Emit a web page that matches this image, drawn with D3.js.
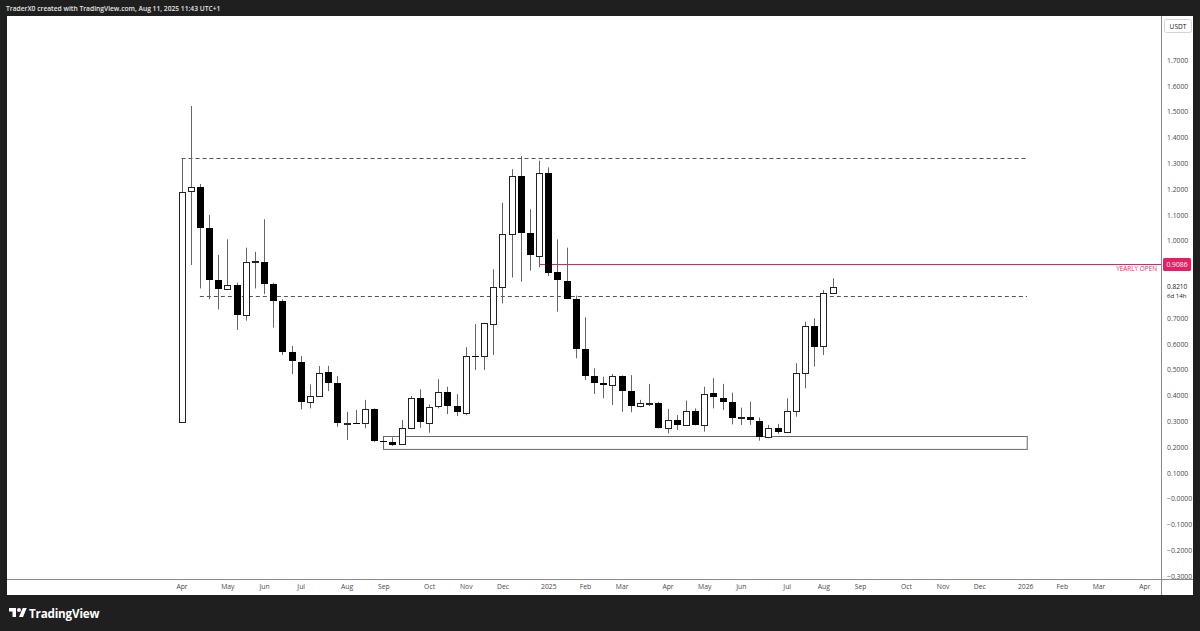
<!DOCTYPE html>
<html><head><meta charset="utf-8">
<script src="https://cdn.jsdelivr.net/npm/d3@7"></script>
<style>html,body{margin:0;padding:0;background:#1f1f1f;overflow:hidden}svg{display:block}</style>
</head><body><svg id="c" width="1200" height="631"></svg>
<script>
// Weekly ENA/USDT candles, week index 0 = first week of Apr 2024
const opens  = [0.298,1.19,1.209,1.050,0.848,0.812,0.828,0.712,0.919,0.919,0.832,0.766,0.567,0.531,0.376,0.398,0.49,0.447,0.292,0.294,0.292,0.348,0.224,0.221,0.212,0.273,0.389,0.295,0.357,0.412,0.36,0.335,0.554,0.553,0.68,0.822,1.026,1.251,1.029,0.942,1.264,0.877,0.845,0.774,0.579,0.476,0.45,0.441,0.476,0.419,0.359,0.37,0.37,0.275,0.305,0.286,0.341,0.286,0.408,0.391,0.376,0.314,0.315,0.302,0.24,0.275,0.26,0.341,0.488,0.669,0.589,0.796];
const highs  = [1.32,1.522,1.22,1.10,0.945,1.005,0.837,0.973,0.957,1.083,0.837,0.773,0.592,0.553,0.443,0.514,0.515,0.476,0.337,0.344,0.383,0.35,0.243,0.238,0.305,0.398,0.424,0.365,0.463,0.434,0.405,0.587,0.677,0.682,0.889,1.147,1.277,1.328,1.122,1.31,1.284,1.005,0.973,0.787,0.703,0.505,0.473,0.483,0.478,0.479,0.383,0.445,0.375,0.348,0.324,0.38,0.35,0.434,0.467,0.445,0.411,0.353,0.376,0.315,0.286,0.29,0.389,0.525,0.686,0.699,0.809,0.854];
const lows   = [0.298,0.906,0.815,0.773,0.734,0.81,0.654,0.69,0.815,0.793,0.663,0.557,0.483,0.346,0.35,0.398,0.417,0.279,0.2275,0.29,0.273,0.22,0.195,0.204,0.208,0.269,0.275,0.256,0.35,0.328,0.32,0.324,0.499,0.499,0.557,0.757,0.857,0.841,0.884,0.897,0.863,0.725,0.775,0.544,0.46,0.406,0.389,0.363,0.337,0.335,0.354,0.359,0.272,0.253,0.266,0.284,0.284,0.26,0.35,0.344,0.288,0.286,0.286,0.225,0.234,0.251,0.256,0.318,0.428,0.512,0.557,0.796];
const closes = [1.19,1.207,1.050,0.848,0.812,0.828,0.712,0.919,0.921,0.832,0.766,0.567,0.531,0.376,0.398,0.488,0.447,0.292,0.293,0.291,0.348,0.224,0.222,0.211,0.275,0.389,0.295,0.357,0.412,0.359,0.335,0.554,0.553,0.68,0.822,1.026,1.251,1.029,0.942,1.264,0.876,0.845,0.777,0.579,0.476,0.45,0.441,0.476,0.419,0.359,0.37,0.371,0.275,0.305,0.286,0.341,0.286,0.406,0.391,0.376,0.314,0.315,0.302,0.24,0.275,0.26,0.341,0.488,0.669,0.589,0.796,0.821];

// 0.8 / 0.9 / 1.8 labels are hidden behind price tags in the source
const priceTicks = [-0.3,-0.2,-0.1,0,0.1,0.2,0.3,0.4,0.5,0.6,0.7,1.0,1.1,1.2,1.3,1.4,1.5,1.6,1.7];
const priceTickLabels = ["\u22120.3000","\u22120.2000","\u22120.1000","\u22120.0000","0.1000","0.2000","0.3000","0.4000","0.5000","0.6000","0.7000","1.0000","1.1000","1.2000","1.3000","1.4000","1.5000","1.6000","1.7000"];
const timeTickWeeks = [0,5,9,13,18,22,27,31,35,40,44,48,53,57,61,66,70,74,79,83,87,92,96,100,105];
const timeTickLabels = ["Apr","May","Jun","Jul","Aug","Sep","Oct","Nov","Dec","2025","Feb","Mar","Apr","May","Jun","Jul","Aug","Sep","Oct","Nov","Dec","2026","Feb","Mar","Apr"];

const resistanceLevel = 1.319;
const midLevel = 0.787;
const yearlyOpen = 0.9086;
const supportZone = [0.193, 0.243];
const lastPrice = 0.8210;

const svg = d3.select('#c');
const W=1200,H=631;
const L=7,R=1161.5,T=16,B=579.5;
const x = d3.scaleLinear().domain([-19.03,106.87]).range([L,R]);
const y = d3.scaleLinear().domain([-0.3132,1.8709]).range([B,T]);
const FONT = "'Open Sans','DejaVu Sans',sans-serif";

svg.append('rect').attr('width',W).attr('height',H).attr('fill','#1f1f1f');
svg.append('text').attr('x',6).attr('y',11).attr('fill','#e6e6e6').attr('font-family',FONT).attr('font-size',6.7).attr('font-weight',600)
  .text('TraderX0 created with TradingView.com, Aug 11, 2025 11:43 UTC+1');
svg.append('rect').attr('x',L).attr('y',T).attr('width',1193-L).attr('height',595-T).attr('fill','#ffffff');

svg.append('defs').append('clipPath').attr('id','clip').append('rect').attr('x',L).attr('y',T).attr('width',R-L).attr('height',B-T);
const g = svg.append('g').attr('clip-path','url(#clip)');

// drawings
const endW = 92.2;
g.append('line').attr('x1',x(0)).attr('x2',x(endW)).attr('y1',Math.round(y(resistanceLevel))+0.5).attr('y2',Math.round(y(resistanceLevel))+0.5)
  .attr('stroke','#555').attr('stroke-dasharray','4,3');
g.append('line').attr('x1',x(2)).attr('x2',x(endW)).attr('y1',Math.round(y(midLevel))+0.5).attr('y2',Math.round(y(midLevel))+0.5)
  .attr('stroke','#555').attr('stroke-dasharray','4,3');
g.append('line').attr('x1',x(39.1)).attr('x2',R).attr('y1',Math.round(y(yearlyOpen))+0.5).attr('y2',Math.round(y(yearlyOpen))+0.5)
  .attr('stroke','#e91e63');
g.append('rect').attr('x',Math.round(x(22))+0.5).attr('y',Math.round(y(supportZone[1]))+0.5)
  .attr('width',x(endW)-x(22)).attr('height',y(supportZone[0])-y(supportZone[1]))
  .attr('fill','none').attr('stroke','#6a6a6a');
g.append('text').attr('x',1157).attr('y',Math.round(y(yearlyOpen))+7).attr('text-anchor','end')
  .attr('fill','#e91e63').attr('font-family',FONT).attr('font-size',6.4).text('YEARLY OPEN');

// candles
const data = opens.map((o,i)=>({i,o,h:highs[i],l:lows[i],c:closes[i]}));
g.selectAll('line.wick').data(data).join('line').attr('class','wick')
  .attr('x1',d=>Math.round(x(d.i))+0.5).attr('x2',d=>Math.round(x(d.i))+0.5)
  .attr('y1',d=>y(d.h)).attr('y2',d=>y(d.l)).attr('stroke','#666').attr('stroke-width',1);
g.selectAll('rect.body').data(data).join('rect').attr('class','body')
  .attr('x',d=>d.c>=d.o?Math.round(x(d.i))-2.5:Math.round(x(d.i))-3)
  .attr('width',d=>d.c>=d.o?6:7)
  .attr('y',d=>{const t=y(Math.max(d.o,d.c));return d.c>=d.o?Math.round(t)+0.5:Math.round(t);})
  .attr('height',d=>Math.max(1,Math.round(Math.abs(y(d.o)-y(d.c)))))
  .attr('fill',d=>d.c>=d.o?'#fff':'#000')
  .attr('stroke',d=>d.c>=d.o?'#222':'none');

// axes frame
svg.append('line').attr('x1',R).attr('x2',R).attr('y1',T).attr('y2',595).attr('stroke','#8a8a8a');
svg.append('line').attr('x1',L).attr('x2',1193).attr('y1',B).attr('y2',B).attr('stroke','#8a8a8a');

const ya = svg.append('g').attr('transform',`translate(${R},0)`)
  .call(d3.axisRight(y).tickValues(priceTicks).tickFormat((d,i)=>priceTickLabels[i]).tickSize(0).tickPadding(5.5));
ya.select('.domain').remove();
ya.selectAll('text').attr('fill','#4a4a4a').attr('font-family',FONT).attr('font-size',6.8);

const xa = svg.append('g').attr('transform',`translate(0,${B})`).attr('clip-path','url(#clipx)')
  .call(d3.axisBottom(x).tickValues(timeTickWeeks).tickFormat((d,i)=>timeTickLabels[i]).tickSize(0).tickPadding(5));
svg.select('defs').append('clipPath').attr('id','clipx').append('rect').attr('x',L).attr('y',-5).attr('width',R-L).attr('height',30);
xa.select('.domain').remove();
xa.selectAll('text').attr('fill','#4a4a4a').attr('font-family',FONT).attr('font-size',6.8);

// USDT label
svg.append('rect').attr('x',1164.5).attr('y',19.5).attr('width',27).attr('height',13).attr('rx',2)
  .attr('fill','#fff').attr('stroke','#d4d4d4');
svg.append('text').attr('x',1178).attr('y',28.5).attr('text-anchor','middle').attr('fill','#131722')
  .attr('font-family',FONT).attr('font-size',6.6).text('USDT');

// yearly open price tag
const yo = Math.round(y(yearlyOpen));
svg.append('rect').attr('x',1163).attr('y',yo-6).attr('width',28).attr('height',13).attr('rx',1.5).attr('fill','#e91e63');
svg.append('text').attr('x',1177).attr('y',yo+3).attr('text-anchor','middle').attr('fill','#fff')
  .attr('font-family',FONT).attr('font-size',6.8).text(d3.format('.4f')(yearlyOpen));

// last price tag
const lp = y(lastPrice);
svg.append('text').attr('x',1167).attr('y',lp+2.3).attr('fill','#131722').attr('font-family',FONT).attr('font-size',6.5).text(d3.format('.4f')(lastPrice));
svg.append('text').attr('x',1167).attr('y',lp+11).attr('fill','#131722').attr('font-family',FONT).attr('font-size',6.1).text('6d 14h');

// TradingView logo
const lg = svg.append('g').attr('transform','translate(9,606) scale(0.5)');
lg.append('path').attr('d','M14 22H7V11H0V4h14v18z').attr('fill','#fff');
lg.append('path').attr('d','M28 22h-8l7.5-18h8L28 22z').attr('fill','#fff');
lg.append('circle').attr('cx',20).attr('cy',8).attr('r',4).attr('fill','#fff');
svg.append('text').attr('x',29).attr('y',618).attr('fill','#fff').attr('font-family',FONT)
  .attr('font-size',11.7).attr('font-weight',700).attr('letter-spacing',-0.2).text('TradingView');
</script></body></html>
